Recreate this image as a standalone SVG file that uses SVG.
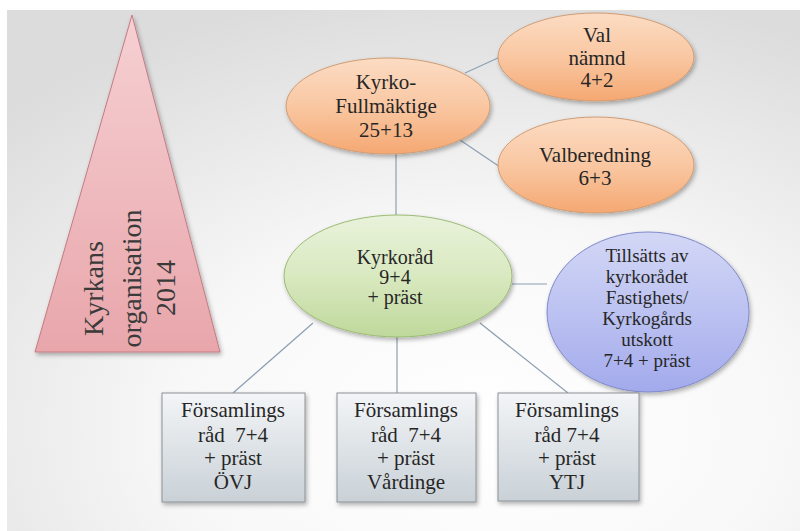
<svg xmlns="http://www.w3.org/2000/svg" width="800" height="531" viewBox="0 0 800 531">
<defs>
  <radialGradient id="bg" cx="0.6" cy="0.8" r="0.85">
    <stop offset="0" stop-color="#ffffff"/>
    <stop offset="0.45" stop-color="#f8f8f8"/>
    <stop offset="1" stop-color="#dcdcdc"/>
  </radialGradient>
  <linearGradient id="gTri" x1="0" y1="0" x2="0" y2="1">
    <stop offset="0" stop-color="#f6d0d3"/>
    <stop offset="1" stop-color="#e8a6ab"/>
  </linearGradient>
  <linearGradient id="gOr" x1="0" y1="0" x2="0" y2="1">
    <stop offset="0" stop-color="#fcdcc3"/>
    <stop offset="0.5" stop-color="#f9c7a2"/>
    <stop offset="1" stop-color="#f5a872"/>
  </linearGradient>
  <linearGradient id="gGr" x1="0" y1="0" x2="0" y2="1">
    <stop offset="0" stop-color="#e9f2db"/>
    <stop offset="0.5" stop-color="#d9e9c0"/>
    <stop offset="1" stop-color="#bfd89b"/>
  </linearGradient>
  <linearGradient id="gBl" x1="0" y1="0" x2="0" y2="1">
    <stop offset="0" stop-color="#d3d7f6"/>
    <stop offset="0.5" stop-color="#bcc2f1"/>
    <stop offset="1" stop-color="#a3aaec"/>
  </linearGradient>
  <linearGradient id="gBox" x1="0" y1="0" x2="0" y2="1">
    <stop offset="0" stop-color="#f3f5f7"/>
    <stop offset="1" stop-color="#c9d1d7"/>
  </linearGradient>
  <filter id="sh" x="-20%" y="-20%" width="145%" height="150%">
    <feDropShadow dx="1.5" dy="2.5" stdDeviation="2" flood-color="#000" flood-opacity="0.3"/>
  </filter>
</defs>
<style>
  text{font-family:'Liberation Serif','DejaVu Serif',serif;font-size:21px;fill:#262626;text-anchor:middle}
  .s{font-size:19px}
  .m{font-size:20px}
  .big{font-size:28px;fill:#3a3a3a}
  .c{stroke:#8d9fb3;stroke-width:1.2;fill:none}
  .or{fill:url(#gOr);stroke:#cf9c74;stroke-width:1}
</style>
<rect x="0" y="0" width="800" height="531" fill="#ffffff"/>
<rect x="7" y="10" width="793" height="521" fill="url(#bg)"/>

<g id="connectors">
  <line class="c" x1="465" y1="73" x2="500" y2="57"/>
  <line class="c" x1="460" y1="140" x2="500" y2="167"/>
  <line class="c" x1="396" y1="153" x2="396" y2="215"/>
  <line class="c" x1="512" y1="284" x2="547" y2="284"/>
  <line class="c" x1="313" y1="323" x2="233" y2="393"/>
  <line class="c" x1="397" y1="337" x2="397" y2="393"/>
  <line class="c" x1="480" y1="323" x2="568" y2="393"/>
</g>

<g id="title">
  <polygon points="132,15 220,352 35,352" fill="url(#gTri)" stroke="#c47b82" stroke-width="1" filter="url(#sh)"/>
  <text class="big" transform="rotate(-90)" font-family="Liberation Serif, DejaVu Serif, serif">
    <tspan x="-285" y="103">Kyrkans</tspan>
    <tspan x="-275" y="141">organisation</tspan>
    <tspan x="-288" y="175">2014</tspan>
  </text>
</g>

<g id="kyrkofullmaktige">
  <ellipse cx="388" cy="106" rx="102" ry="48" class="or" filter="url(#sh)"/>
  <text font-family="Liberation Serif, DejaVu Serif, serif"><tspan x="386" y="89">Kyrko-</tspan><tspan x="386" y="113">Fullmäktige</tspan><tspan x="386" y="137">25+13</tspan></text>
</g>

<g id="valnamnd">
  <ellipse cx="596" cy="57" rx="98" ry="44" class="or" filter="url(#sh)"/>
  <text font-family="Liberation Serif, DejaVu Serif, serif"><tspan x="597" y="42">Val</tspan><tspan x="597" y="65">nämnd</tspan><tspan x="597" y="87">4+2</tspan></text>
</g>

<g id="valberedning">
  <ellipse cx="596" cy="165" rx="98" ry="48" class="or" filter="url(#sh)"/>
  <text font-family="Liberation Serif, DejaVu Serif, serif"><tspan x="595" y="162">Valberedning</tspan><tspan x="595" y="185">6+3</tspan></text>
</g>

<g id="kyrkorad">
  <ellipse cx="398" cy="276" rx="114" ry="61" fill="url(#gGr)" stroke="#9cbb74" stroke-width="1" filter="url(#sh)"/>
  <text class="m" font-family="Liberation Serif, DejaVu Serif, serif"><tspan x="395" y="264">Kyrkoråd</tspan><tspan x="395" y="284">9+4</tspan><tspan x="395" y="304">+ präst</tspan></text>
</g>

<g id="utskott">
  <ellipse cx="648" cy="312" rx="101" ry="80" fill="url(#gBl)" stroke="#7f89c9" stroke-width="1" filter="url(#sh)"/>
  <text class="s" font-family="Liberation Serif, DejaVu Serif, serif"><tspan x="647" y="262">Tillsätts av</tspan><tspan x="647" y="283">kyrkorådet</tspan><tspan x="647" y="304">Fastighets/</tspan><tspan x="647" y="325">Kyrkogårds</tspan><tspan x="647" y="346">utskott</tspan><tspan x="647" y="367">7+4 + präst</tspan></text>
</g>

<g id="ovj">
  <rect x="162" y="393" width="143" height="109" fill="url(#gBox)" stroke="#8c9196" stroke-width="1" filter="url(#sh)"/>
  <text font-family="Liberation Serif, DejaVu Serif, serif"><tspan x="233" y="417">Församlings</tspan><tspan x="233" y="442">råd&#160; 7+4</tspan><tspan x="233" y="465">+ präst</tspan><tspan x="233" y="489">ÖVJ</tspan></text>
</g>

<g id="vardinge">
  <rect x="337" y="393" width="139" height="109" fill="url(#gBox)" stroke="#8c9196" stroke-width="1" filter="url(#sh)"/>
  <text font-family="Liberation Serif, DejaVu Serif, serif"><tspan x="406" y="417">Församlings</tspan><tspan x="406" y="442">råd&#160; 7+4</tspan><tspan x="406" y="465">+ präst</tspan><tspan x="406" y="489">Vårdinge</tspan></text>
</g>

<g id="ytj">
  <rect x="498" y="393" width="141" height="108" fill="url(#gBox)" stroke="#8c9196" stroke-width="1" filter="url(#sh)"/>
  <text font-family="Liberation Serif, DejaVu Serif, serif"><tspan x="567" y="417">Församlings</tspan><tspan x="567" y="442">råd 7+4</tspan><tspan x="567" y="465">+ präst</tspan><tspan x="567" y="489">YTJ</tspan></text>
</g>
</svg>
